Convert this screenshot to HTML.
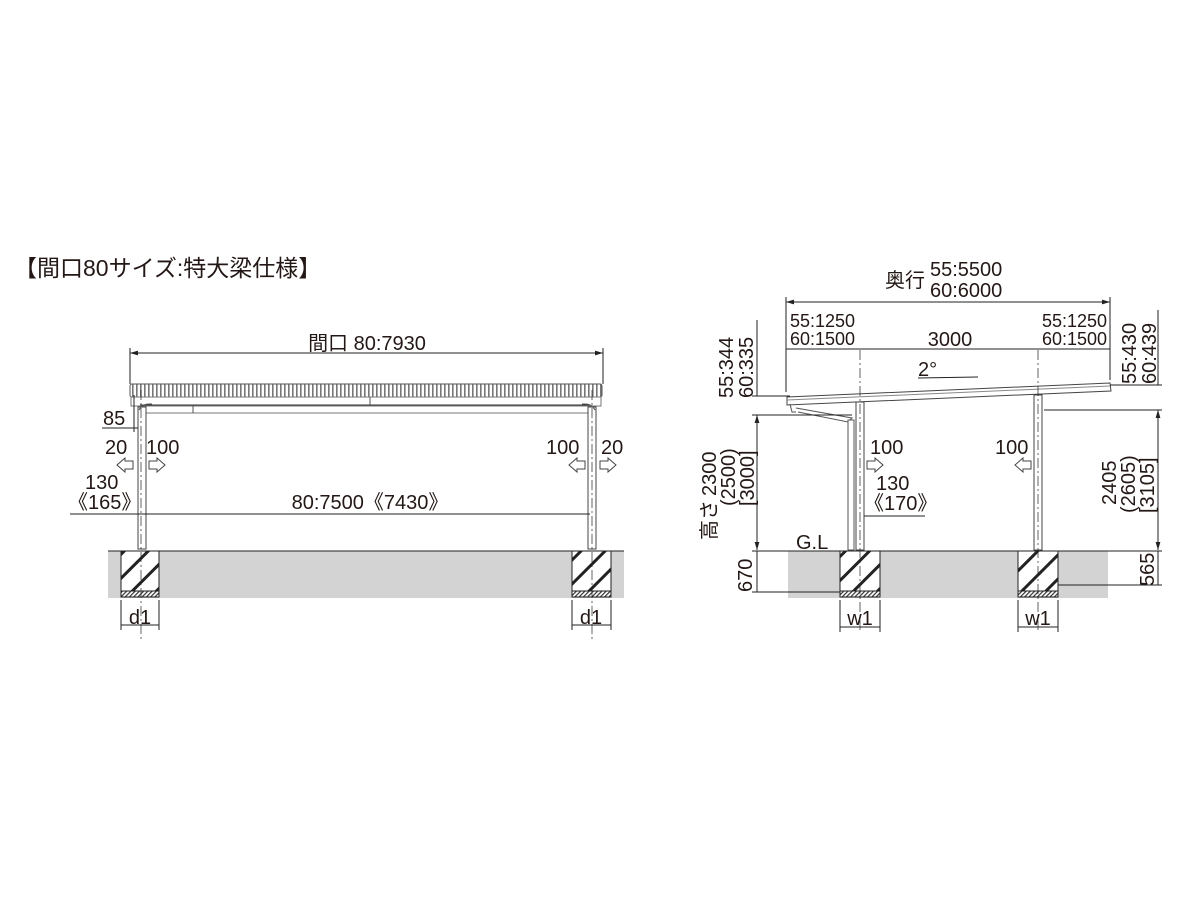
<!DOCTYPE html>
<html><head><meta charset="utf-8"><style>
html,body{margin:0;padding:0;background:#fff;width:1200px;height:900px;overflow:hidden}
text{font-family:"Liberation Sans","Noto Sans CJK JP",sans-serif;fill:#231815}
</style></head><body>
<svg width="1200" height="900" viewBox="0 0 1200 900" xmlns="http://www.w3.org/2000/svg">
<defs>
<pattern id="rib" width="4" height="20" patternUnits="userSpaceOnUse"><rect width="4" height="20" fill="#fff"/><rect width="1.6" height="20" fill="#777"/></pattern>
<pattern id="hat" width="17" height="17" patternUnits="userSpaceOnUse" patternTransform="rotate(45)"><rect width="17" height="17" fill="#fff"/><rect width="3" height="17" fill="#222"/></pattern>
<pattern id="hat2" width="3" height="3" patternUnits="userSpaceOnUse" patternTransform="rotate(45)"><rect width="3" height="3" fill="#fff"/><rect width="1.2" height="3" fill="#333"/></pattern>
<marker id="ar" viewBox="0 0 10 10" refX="10" refY="5" markerWidth="8" markerHeight="8" orient="auto-start-reverse"><path d="M0,2 L10,5 L0,8z" fill="#222"/></marker>
</defs>
<g stroke="#222" fill="none" stroke-width="1">
<rect x="108" y="551" width="516" height="47" fill="#d3d3d3" stroke="none"/>
<line x1="108" y1="551" x2="624" y2="551"/>
<rect x="121" y="551" width="38" height="40" fill="url(#hat)"/>
<rect x="121" y="591" width="38" height="6" fill="url(#hat2)"/>
<rect x="572" y="551" width="39" height="40" fill="url(#hat)"/>
<rect x="572" y="591" width="39" height="6" fill="url(#hat2)"/>
<rect x="130" y="384" width="472" height="13" rx="2" fill="url(#rib)" stroke="#555"/>
<rect x="131" y="397" width="470" height="9" fill="#fff" stroke="#777"/>
<line x1="140" y1="413" x2="590" y2="413" stroke="#777"/>
<line x1="140" y1="405" x2="590" y2="405" stroke="#333"/>
<line x1="370" y1="397" x2="370" y2="406" stroke="#555"/>
<line x1="193" y1="406" x2="193" y2="413" stroke="#555"/>
<rect x="138" y="407" width="8" height="142" fill="#fff" stroke="#444"/>
<rect x="588" y="407" width="8" height="142" fill="#fff" stroke="#444"/>
<path d="M139 410 q3 -6 10 -6 h3" stroke="#555"/>
<path d="M595 410 q-3 -6 -10 -6 h-3" stroke="#555"/>
<line x1="141" y1="390" x2="141" y2="640" stroke-dasharray="10,3,2,3" stroke-width="0.7"/>
<line x1="592" y1="390" x2="592" y2="640" stroke-dasharray="10,3,2,3" stroke-width="0.7"/>
<line x1="130" y1="353" x2="603" y2="353" marker-start="url(#ar)" marker-end="url(#ar)"/>
<line x1="130" y1="348" x2="130" y2="384"/><line x1="603" y1="348" x2="603" y2="384"/>
<line x1="102" y1="428" x2="138" y2="428"/>
<line x1="134" y1="395" x2="134" y2="432"/>
<line x1="70" y1="514" x2="590" y2="514"/>
<line x1="121" y1="600" x2="121" y2="630"/><line x1="159" y1="600" x2="159" y2="630"/>
<line x1="121" y1="625" x2="159" y2="625"/>
<line x1="572" y1="600" x2="572" y2="630"/><line x1="611" y1="600" x2="611" y2="630"/>
<line x1="572" y1="625" x2="611" y2="625"/>
<path d="M133 461 h-8 v-3 l-8 7 l8 7 v-3 h8z" stroke="#444"/>
<path d="M149 461 h8 v-3 l8 7 l-8 7 v-3 h-8z" stroke="#444"/>
<path d="M585 461 h-8 v-3 l-8 7 l8 7 v-3 h8z" stroke="#444"/>
<path d="M600 461 h8 v-3 l8 7 l-8 7 v-3 h-8z" stroke="#444"/>

<rect x="788" y="551" width="320" height="47" fill="#d3d3d3" stroke="none"/>
<line x1="788" y1="551" x2="1108" y2="551"/>
<rect x="840" y="551" width="40" height="40" fill="url(#hat)"/>
<rect x="840" y="591" width="40" height="6" fill="url(#hat2)"/>
<rect x="1018" y="551" width="40" height="40" fill="url(#hat)"/>
<rect x="1018" y="591" width="40" height="6" fill="url(#hat2)"/>
<path d="M787 397 L1110 383 L1111 391 L787 405 Z" fill="#fff" stroke="#444"/>
<line x1="787" y1="400" x2="1110" y2="386" stroke="#888"/>
<path d="M790 404 l2 8 h4" stroke="#555"/>
<path d="M796 408 L852 418 L848 422 L798 412" stroke="#555"/>
<rect x="848" y="420" width="6" height="130" fill="#fff" stroke="#555"/>
<rect x="856" y="402" width="8" height="148" fill="#fff" stroke="#444"/>
<rect x="1034" y="395" width="8" height="155" fill="#fff" stroke="#444"/>
<line x1="860" y1="350" x2="860" y2="630" stroke-dasharray="10,3,2,3" stroke-width="0.7"/>
<line x1="1038" y1="350" x2="1038" y2="630" stroke-dasharray="10,3,2,3" stroke-width="0.7"/>
<line x1="786" y1="302" x2="1110" y2="302" marker-start="url(#ar)" marker-end="url(#ar)"/>
<line x1="786" y1="297" x2="786" y2="392"/><line x1="1110" y1="297" x2="1110" y2="380"/>
<line x1="786" y1="349" x2="1110" y2="349"/>
<line x1="918" y1="378" x2="978" y2="377"/>
<line x1="752" y1="396" x2="790" y2="396"/>
<line x1="757" y1="320" x2="757" y2="396"/>
<line x1="757" y1="415" x2="757" y2="550" marker-start="url(#ar)" marker-end="url(#ar)"/>
<line x1="752" y1="415" x2="852" y2="415"/>
<line x1="757" y1="551" x2="757" y2="592"/>
<line x1="752" y1="592" x2="840" y2="592"/>
<line x1="752" y1="551" x2="790" y2="551"/>
<line x1="864" y1="516" x2="925" y2="516"/>
<line x1="1110" y1="385" x2="1162" y2="385"/>
<line x1="1158" y1="310" x2="1158" y2="385"/>
<line x1="1158" y1="410" x2="1158" y2="550" marker-start="url(#ar)" marker-end="url(#ar)"/>
<line x1="1044" y1="410" x2="1162" y2="410"/>
<line x1="1108" y1="551" x2="1162" y2="551"/>
<line x1="1158" y1="551" x2="1158" y2="585"/>
<line x1="1058" y1="585" x2="1162" y2="585"/>
<line x1="840" y1="600" x2="840" y2="632"/><line x1="880" y1="600" x2="880" y2="632"/>
<line x1="840" y1="627" x2="880" y2="627"/>
<line x1="1018" y1="600" x2="1018" y2="632"/><line x1="1058" y1="600" x2="1058" y2="632"/>
<line x1="1018" y1="627" x2="1058" y2="627"/>
<path d="M867 461 h8 v-3 l8 7 l-8 7 v-3 h-8z" stroke="#444"/>
<path d="M1031 461 h-8 v-3 l-8 7 l8 7 v-3 h8z" stroke="#444"/>
</g>
<text x="14" y="276" font-size="23">【間口80サイズ:特大梁仕様】</text>
<text x="367" y="350" font-size="20" text-anchor="middle">間口 80:7930</text>
<g font-size="20">
<text x="103" y="425">85</text>
<text x="105" y="454">20</text>
<text x="146" y="454">100</text>
<text x="85" y="489">130</text>
<text x="68" y="509">《165》</text>
<text x="370" y="509" text-anchor="middle">80:7500《7430》</text>
<text x="546" y="454">100</text>
<text x="601" y="454">20</text>
<text x="140" y="624" text-anchor="middle">d1</text>
<text x="591" y="624" text-anchor="middle">d1</text>
<text x="885" y="287">奥行</text>
<text x="930" y="276">55:5500</text>
<text x="930" y="297">60:6000</text>
<text x="950" y="346" text-anchor="middle">3000</text>
<text x="918" y="376">2°</text>
<text x="796" y="549">G.L</text>
<text x="870" y="454">100</text>
<text x="876" y="490">130</text>
<text x="864" y="510">《170》</text>
<text x="995" y="454">100</text>
<text x="860" y="625" text-anchor="middle">w1</text>
<text x="1038" y="625" text-anchor="middle">w1</text>
</g>
<g font-size="18">
<text x="790" y="327">55:1250</text>
<text x="790" y="345">60:1500</text>
<text x="1042" y="327">55:1250</text>
<text x="1042" y="345">60:1500</text>
</g>
<g font-size="20">
<text transform="translate(733,398) rotate(-90)">55:344</text>
<text transform="translate(753,398) rotate(-90)">60:335</text>
<text transform="translate(716,540) rotate(-90)">高さ</text>
<text transform="translate(716,496) rotate(-90)">2300</text>
<text transform="translate(735,506) rotate(-90)">(2500)</text>
<text transform="translate(754,506) rotate(-90)">[3000]</text>
<text transform="translate(752,592) rotate(-90)">670</text>
<text transform="translate(1136,384) rotate(-90)">55:430</text>
<text transform="translate(1156,384) rotate(-90)">60:439</text>
<text transform="translate(1116,505) rotate(-90)">2405</text>
<text transform="translate(1135,513) rotate(-90)">(2605)</text>
<text transform="translate(1154,513) rotate(-90)">[3105]</text>
<text transform="translate(1154,586) rotate(-90)">565</text>
</g>
</svg>
</body></html>
